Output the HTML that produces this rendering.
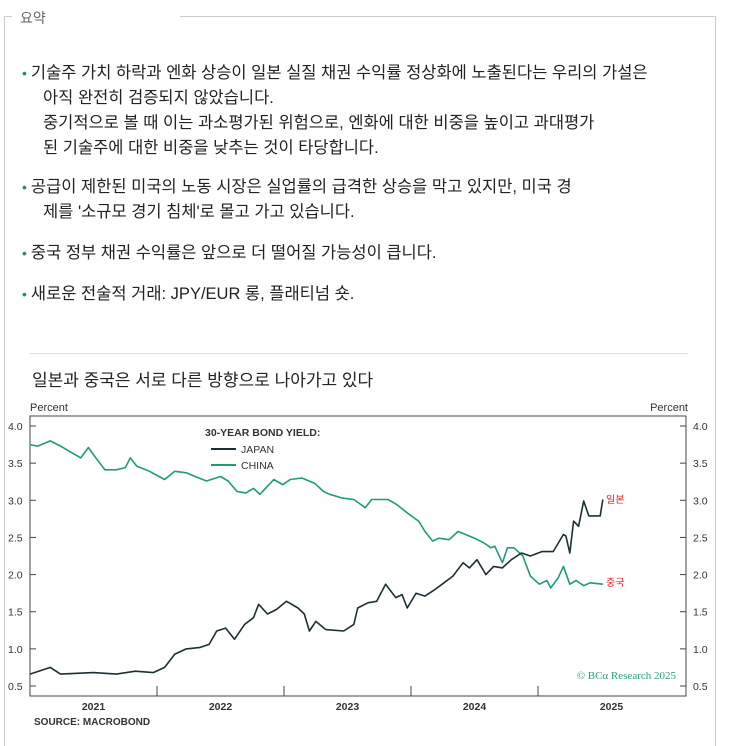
<!DOCTYPE html>
<html><head><meta charset="utf-8">
<style>
body{margin:0;width:729px;height:730px;background:#fff;overflow:hidden;font-family:"Liberation Sans","Noto Sans CJK KR",sans-serif;position:relative;color:#222}
.card{position:absolute;left:4px;top:16px;width:710px;height:730px;border-left:1px solid #ccc;border-right:1px solid #ccc}
.topline{position:absolute;left:180px;top:16px;width:535px;border-top:1px solid #ccc}
.tl2{position:absolute;left:4px;top:16px;width:8px;border-top:1px solid #ccc}
.sum{position:absolute;left:20px;top:8px;font-size:14px;color:#666}
.b{position:absolute;left:22px;font-size:16.5px;color:#222;line-height:25px;white-space:nowrap}
.b .dot{color:#1a8f6f;font-size:14px;margin-right:4px}
.ind{padding-left:21px}
.sep{position:absolute;left:30px;top:353px;width:658px;border-top:1px solid #ddd}
.sub{position:absolute;left:32px;top:366px;font-size:17px;color:#222}
</style></head><body>
<div class="card"></div>
<div class="topline"></div>
<div class="tl2"></div>
<div class="sum">요약</div>
<div class="b" style="top:61px"><span class="dot">•</span>기술주 가치 하락과 엔화 상승이 일본 실질 채권 수익률 정상화에 노출된다는 우리의 가설은<br><span class="ind">아직 완전히 검증되지 않았습니다.</span><br><span class="ind">중기적으로 볼 때 이는 과소평가된 위험으로, 엔화에 대한 비중을 높이고 과대평가</span><br><span class="ind">된 기술주에 대한 비중을 낮추는 것이 타당합니다.</span></div>
<div class="b" style="top:175px"><span class="dot">•</span>공급이 제한된 미국의 노동 시장은 실업률의 급격한 상승을 막고 있지만, 미국 경<br><span class="ind">제를 '소규모 경기 침체'로 몰고 가고 있습니다.</span></div>
<div class="b" style="top:241px"><span class="dot">•</span>중국 정부 채권 수익률은 앞으로 더 떨어질 가능성이 큽니다.</div>
<div class="b" style="top:282px"><span class="dot">•</span>새로운 전술적 거래: JPY/EUR 롱, 플래티넘 숏.</div>
<div class="sep"></div>
<div class="sub">일본과 중국은 서로 다른 방향으로 나아가고 있다</div>
<svg id="chart" width="729" height="730" style="position:absolute;left:0;top:0"></svg>
<script>
const jpDates=[2021.00,2021.16,2021.24,2021.50,2021.68,2021.83,2021.97,2022.06,2022.14,2022.23,2022.34,2022.41,2022.47,2022.54,2022.61,2022.69,2022.76,2022.80,2022.87,2022.94,2023.02,2023.11,2023.16,2023.20,2023.25,2023.33,2023.47,2023.55,2023.58,2023.66,2023.73,2023.80,2023.88,2023.93,2023.97,2024.04,2024.11,2024.19,2024.26,2024.33,2024.41,2024.46,2024.52,2024.59,2024.65,2024.72,2024.79,2024.87,2024.94,2025.03,2025.12,2025.20,2025.22,2025.25,2025.28,2025.32,2025.36,2025.40,2025.49,2025.51];
const jpValues=[0.66,0.75,0.66,0.68,0.66,0.70,0.68,0.75,0.93,1.00,1.02,1.06,1.24,1.28,1.13,1.33,1.42,1.60,1.47,1.53,1.64,1.55,1.47,1.24,1.37,1.26,1.24,1.33,1.55,1.62,1.64,1.87,1.69,1.73,1.55,1.75,1.71,1.80,1.89,1.98,2.16,2.09,2.20,2.00,2.11,2.09,2.20,2.29,2.25,2.31,2.31,2.54,2.52,2.29,2.72,2.65,2.99,2.79,2.79,3.01];
const cnDates=[2021.00,2021.06,2021.16,2021.24,2021.31,2021.40,2021.46,2021.51,2021.59,2021.68,2021.75,2021.79,2021.84,2021.94,2022.06,2022.14,2022.23,2022.30,2022.39,2022.50,2022.56,2022.63,2022.70,2022.76,2022.81,2022.87,2022.92,2022.99,2023.05,2023.14,2023.24,2023.31,2023.36,2023.46,2023.55,2023.64,2023.69,2023.82,2023.89,2023.97,2024.06,2024.11,2024.17,2024.22,2024.30,2024.37,2024.43,2024.50,2024.57,2024.63,2024.66,2024.72,2024.76,2024.81,2024.88,2024.94,2025.01,2025.07,2025.10,2025.16,2025.20,2025.25,2025.30,2025.36,2025.41,2025.51];
const cnValues=[3.75,3.73,3.80,3.73,3.66,3.57,3.71,3.59,3.41,3.41,3.44,3.57,3.46,3.39,3.28,3.39,3.37,3.32,3.26,3.32,3.26,3.12,3.10,3.16,3.08,3.19,3.28,3.21,3.28,3.30,3.23,3.12,3.08,3.03,3.01,2.90,3.01,3.01,2.94,2.83,2.72,2.58,2.45,2.49,2.47,2.58,2.54,2.49,2.43,2.36,2.38,2.16,2.36,2.36,2.25,1.98,1.87,1.92,1.82,1.96,2.11,1.87,1.92,1.85,1.89,1.87];
const yTicks=[0.5,1.0,1.5,2.0,2.5,3.0,3.5,4.0];
const yearLabels=["2021","2022","2023","2024","2025"];
const yearBounds=[2022,2023,2024,2025];

const svg=document.getElementById('chart');const NS='http://www.w3.org/2000/svg';
const L=30,R=686,T=416,B=696;
const xs=t=>L+(t-2021)*127;
const ys=v=>426+(4-v)*74.29;
function mk(tag,a){const e=document.createElementNS(NS,tag);for(const k in a)e.setAttribute(k,a[k]);svg.appendChild(e);return e;}
function txt(s,x,y,a){const e=mk('text',Object.assign({x:x,y:y},a));e.textContent=s;return e;}
let f='"Liberation Sans","Noto Sans CJK KR",sans-serif';
let e=mk('rect',{x:L,y:T,width:R-L,height:B-T,fill:'none',stroke:'#444','stroke-width':1});


e=txt('Percent',30,411,{'font-size':11,fill:'#333','font-family':f});


e=txt('Percent',688,411,{'font-size':11,fill:'#333','font-family':f,'text-anchor':'end'});


yTicks.forEach(v=>{const y=ys(v);
 mk('line',{x1:L,x2:L+6,y1:y,y2:y,stroke:'#444'});mk('line',{x1:R-6,x2:R,y1:y,y2:y,stroke:'#444'});
 e=txt(v.toFixed(1),8,y+4,{'font-size':10.5,fill:'#333','font-family':f});
 
 
 e=txt(v.toFixed(1),693,y+4,{'font-size':10.5,fill:'#333','font-family':f});
 
 
});
yearBounds.forEach(t=>mk('line',{x1:xs(t),x2:xs(t),y1:B-10,y2:B,stroke:'#444'}));
yearLabels.forEach((s,i)=>{e=txt(s,xs(2021+i+0.5)+(i==4?10:0),710,{'font-size':10.5,'font-weight':'bold',fill:'#333','font-family':f,'text-anchor':'middle'});
 
 });
function line(d,v,c,n){const p=d.map((t,i)=>(i?'L':'M')+xs(t).toFixed(1)+','+ys(v[i]).toFixed(1)).join('');
 const el=mk('path',{d:p,fill:'none',stroke:c,'stroke-width':1.6,'stroke-linejoin':'round'});
 
 }
line(cnDates,cnValues,'#1f9c76','china-line');
line(jpDates,jpValues,'#1b3035','japan-line');
e=txt('30-YEAR BOND YIELD:',205,436,{'font-size':10.5,'font-weight':'bold',fill:'#333','font-family':f});


mk('line',{x1:211,x2:236,y1:449,y2:449,stroke:'#1b3035','stroke-width':2});
e=txt('JAPAN',241,453,{'font-size':10.5,fill:'#333','font-family':f});


mk('line',{x1:211,x2:236,y1:465,y2:465,stroke:'#1f9c76','stroke-width':2});
e=txt('CHINA',241,469,{'font-size':10.5,fill:'#333','font-family':f});


e=txt('일본',606,503,{'font-size':10,fill:'#e02020','font-family':f});


e=txt('중국',606,586,{'font-size':10,fill:'#e02020','font-family':f});


e=txt('© BCα Research 2025',676,679,{'font-size':11,fill:'#2aa37e','font-family':'"Liberation Serif",serif','text-anchor':'end'});


e=txt('SOURCE: MACROBOND',34,725,{'font-size':10,'font-weight':'bold',fill:'#333','font-family':f});


</script>
</body></html>
